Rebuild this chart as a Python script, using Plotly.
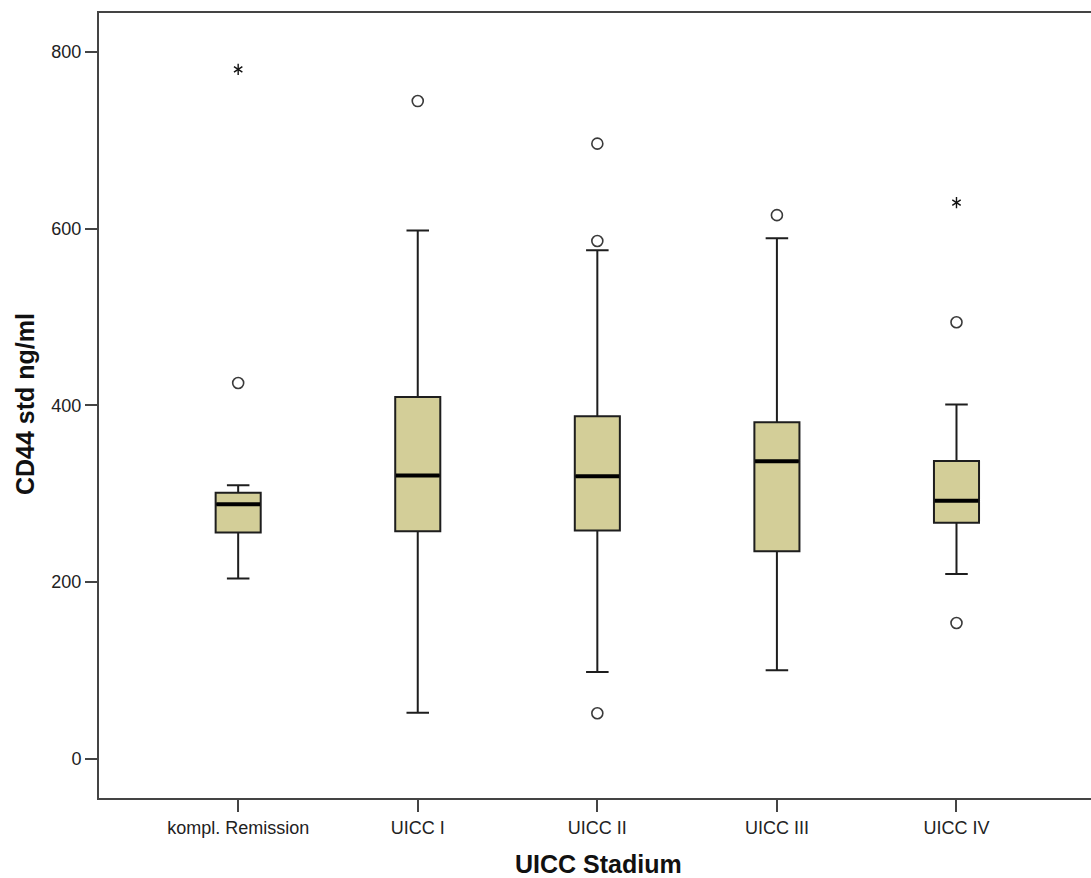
import plotly.graph_objects as go

categories = ["kompl. Remission", "UICC I", "UICC II", "UICC III", "UICC IV"]
lower_fence = [204, 52, 98, 100, 209]
q1 = [256, 257.5, 258.4, 234.7, 267]
median = [288, 320.5, 319.6, 336.6, 292]
q3 = [301, 409.3, 387.5, 380.8, 337]
upper_fence = [309.4, 597.8, 575.5, 589.2, 401]

# outliers (circles) and extremes (stars), per category index
outlier_cat = [0, 1, 2, 2, 2, 3, 4, 4]
outlier_val = [425.3, 744.5, 696.3, 586, 51.4, 615.3, 494, 153.5]
extreme_cat = [0, 4]
extreme_val = [780.4, 629.5]

y_ticks = [0, 200, 400, 600, 800]

box_w = 0.251
fill = "#d3ce98"
idx = list(range(len(categories)))

fig = go.Figure()
fig.add_trace(go.Box(
    x=idx, q1=q1, median=median, q3=q3,
    lowerfence=lower_fence, upperfence=upper_fence,
    width=box_w, whiskerwidth=0.5,
    fillcolor=fill, line=dict(color="#1e1e1e", width=2),
    boxpoints=False, showlegend=False, hoverinfo="skip",
))

# thick median lines
mx, my = [], []
for i, m in zip(idx, median):
    mx += [i - box_w / 2 + 0.004, i + box_w / 2 - 0.004, None]
    my += [m, m, None]
fig.add_trace(go.Scatter(x=mx, y=my, mode="lines",
                         line=dict(color="black", width=4),
                         showlegend=False, hoverinfo="skip"))

fig.add_trace(go.Scatter(
    x=outlier_cat, y=outlier_val, mode="markers",
    marker=dict(symbol="circle-open", size=11, color="#3a3a3a",
                line=dict(width=1.6, color="#3a3a3a")),
    showlegend=False, hoverinfo="skip"))

for sym in ["y-up-open", "y-down-open"]:
    fig.add_trace(go.Scatter(
        x=extreme_cat, y=extreme_val, mode="markers",
        marker=dict(symbol=sym, size=7, color="#111",
                    line=dict(width=1.4, color="#111")),
        showlegend=False, hoverinfo="skip"))

L, R, T, B = 99, 0, 13, 80
W, H = 1091, 878
pw = W - L - R
ph = H - T - B

fig.update_layout(
    width=W, height=H,
    margin=dict(l=L, r=R, t=T, b=B),
    paper_bgcolor="white", plot_bgcolor="white",
    font=dict(family="Liberation Sans, Arial, sans-serif", color="#222"),
    xaxis=dict(
        range=[-0.775, 4.749], tickvals=idx, ticktext=categories,
        showgrid=False, zeroline=False,
        showline=True, linecolor="#444", linewidth=2, mirror=True,
        ticks="outside", ticklen=12, tickwidth=2, tickcolor="#444",
        tickfont=dict(size=18, color="#222"),
    ),
    yaxis=dict(
        range=[-44.6, 844.2], tickvals=y_ticks,
        showgrid=False, zeroline=False,
        showline=True, linecolor="#444", linewidth=2, mirror=False,
        ticks="outside", ticklen=12, tickwidth=2, tickcolor="#444",
        tickfont=dict(size=18, color="#222"),
    ),
    annotations=[
        dict(text="<b>UICC Stadium</b>", xref="paper", yref="paper",
             x=(598 - L) / pw, y=(H - B - 863.5) / ph,
             xanchor="center", yanchor="middle", showarrow=False,
             font=dict(size=25, color="#111")),
        dict(text="<b>CD44 std ng/ml</b>", xref="paper", yref="paper",
             x=(25 - L) / pw, y=(H - B - 404) / ph, textangle=-90,
             xanchor="center", yanchor="middle", showarrow=False,
             font=dict(size=25, color="#111")),
    ],
)

fig.write_html("out.html")
